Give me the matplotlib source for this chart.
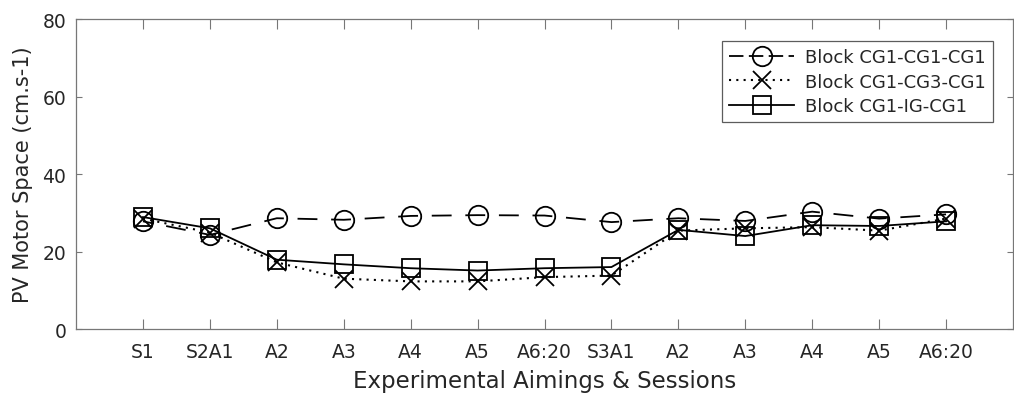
import matplotlib
matplotlib.use("Agg")
import matplotlib.pyplot as plt
import numpy as np

categories = ["S1", "S2A1", "A2", "A3", "A4", "A5", "A6:20", "S3A1", "A2", "A3", "A4", "A5", "A6:20"]
cg1_cg1_cg1 = [27.8, 24.3, 28.6, 28.2, 29.2, 29.4, 29.3, 27.6, 28.6, 27.9, 30.3, 28.5, 29.6]
cg1_cg3_cg1 = [28.5, 24.9, 17.2, 13.0, 12.3, 12.3, 13.4, 13.8, 25.4, 26.0, 26.3, 25.4, 28.5]
cg1_ig_cg1 = [28.9, 26.0, 17.9, 16.7, 15.7, 15.1, 15.7, 16.0, 25.6, 24.0, 26.8, 26.6, 27.8]
labels = ["Block CG1-CG1-CG1", "Block CG1-CG3-CG1", "Block CG1-IG-CG1"]

plt.rcParams['font.family'] = ['DejaVu Sans']
txt = '#262626'
spine_c = '#777777'

fig = plt.figure(figsize=(10.14, 4.02), dpi=100)
ax = fig.add_axes([0.075, 0.179, 0.924, 0.771])

x = np.arange(1, len(categories) + 1)
lw = 1.3
ax.plot(x, cg1_cg1_cg1, color='black', linestyle=(5.5, (11, 7.6)), linewidth=lw,
        marker='o', markersize=14, markerfacecolor='none', markeredgewidth=1.3, label=labels[0])
ax.plot(x, cg1_cg3_cg1, color='black', linestyle=(0, (1, 2.5)), linewidth=1.5,
        marker='x', markersize=13.5, markeredgewidth=1.3, label=labels[1])
ax.plot(x, cg1_ig_cg1, color='black', linestyle='-', linewidth=lw,
        marker='s', markersize=13, markerfacecolor='none', markeredgewidth=1.3, label=labels[2])

ax.set_xlim(0, 14)
ax.set_ylim(0, 80)
ax.set_xticks(x)
ax.set_xticklabels(categories)
ax.set_yticks([0, 20, 40, 60, 80])
ax.tick_params(axis='x', direction='in', length=7, width=0.8, color=spine_c,
               top=True, labelsize=13.5, labelcolor=txt, pad=9)
ax.tick_params(axis='y', direction='in', length=4, width=0.8, color=spine_c,
               right=True, labelsize=13.5, labelcolor=txt, pad=7)
for s in ax.spines.values():
    s.set_color(spine_c)
    s.set_linewidth(0.9)

ax.set_xlabel("Experimental Aimings & Sessions", fontsize=16.5, color=txt, labelpad=6)
ax.set_ylabel("PV Motor Space (cm.s-1)", fontsize=15, color=txt, labelpad=7)

leg = ax.legend(loc='upper right', bbox_to_anchor=(0.9787, 0.929), borderaxespad=0,
                fontsize=13, frameon=True, fancybox=False, edgecolor='#333333',
                handlelength=3.6, handletextpad=0.6, borderpad=0.4, labelspacing=0.35)
leg.get_frame().set_linewidth(0.9)
for t in leg.get_texts():
    t.set_color(txt)
# make the dashed legend sample run through its circle, as in the reference
for h in leg.legend_handles:
    pass
leg_lines = leg.get_lines()
if leg_lines:
    leg_lines[0].set_linestyle((0, (8, 3)))

fig.savefig("out.png", dpi=100)
